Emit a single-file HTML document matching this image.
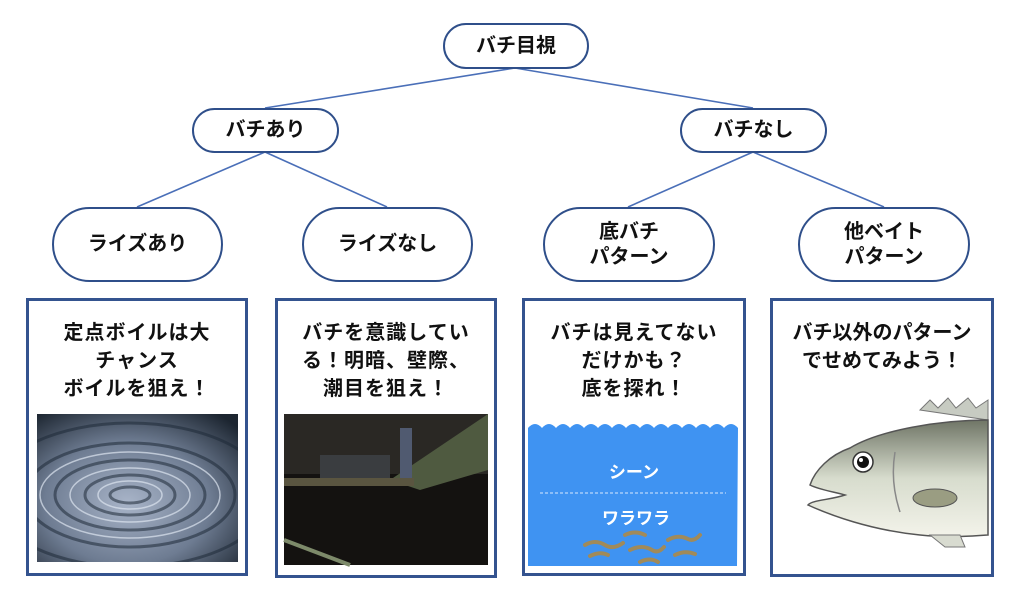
<!DOCTYPE html>
<html><head><meta charset="utf-8"><style>
body{margin:0;width:1024px;height:592px;background:#fff;position:relative;overflow:hidden;font-family:"Liberation Sans","Noto Sans CJK JP",sans-serif;}
.n{position:absolute;box-sizing:border-box;border:2.5px solid #2f4f8a;border-radius:999px;background:#fff;display:flex;align-items:center;justify-content:center;text-align:center;font-weight:bold;font-size:20px;line-height:25px;color:#111;}
.b{position:absolute;box-sizing:border-box;border:3px solid #34538f;background:#fff;}
.t{position:absolute;left:0;right:0;top:18px;text-align:center;font-weight:bold;font-size:20px;line-height:28px;color:#111;letter-spacing:1px;}
svg{position:absolute;left:0;top:0}
</style></head><body>
<svg width="1024" height="592">
<g stroke="#4a6fb8" stroke-width="1.6">
<line x1="515" y1="68" x2="265" y2="108"/><line x1="515" y1="68" x2="753" y2="108"/>
<line x1="265" y1="152" x2="137" y2="207"/><line x1="265" y1="152" x2="387" y2="207"/>
<line x1="753" y1="152" x2="628" y2="207"/><line x1="753" y1="152" x2="884" y2="207"/>
</g>
</svg>
<div class="n" style="left:443px;top:23px;width:146px;height:46px">バチ目視</div>
<div class="n" style="left:192px;top:108px;width:147px;height:45px">バチあり</div>
<div class="n" style="left:680px;top:108px;width:147px;height:45px">バチなし</div>
<div class="n" style="left:52px;top:207px;width:171px;height:75px">ライズあり</div>
<div class="n" style="left:302px;top:207px;width:171px;height:75px">ライズなし</div>
<div class="n" style="left:543px;top:207px;width:172px;height:75px">底バチ<br>パターン</div>
<div class="n" style="left:798px;top:207px;width:172px;height:75px">他ベイト<br>パターン</div>

<div class="b" style="left:26px;top:298px;width:222px;height:278px"><div class="t">定点ボイルは大<br>チャンス<br>ボイルを狙え！</div></div>
<div class="b" style="left:275px;top:298px;width:222px;height:280px"><div class="t">バチを意識してい<br>る！明暗、壁際、<br>潮目を狙え！</div></div>
<div class="b" style="left:522px;top:298px;width:224px;height:278px"><div class="t">バチは見えてない<br>だけかも？<br>底を探れ！</div></div>
<div class="b" style="left:770px;top:298px;width:224px;height:279px"><div class="t" style="letter-spacing:0">バチ以外のパターン<br>でせめてみよう！</div></div>

<svg width="1024" height="592">
<defs>
<radialGradient id="w" cx="0.45" cy="0.6" r="0.75"><stop offset="0" stop-color="#a8b4c8"/><stop offset="0.55" stop-color="#6e7c92"/><stop offset="1" stop-color="#1c2530"/></radialGradient>
<linearGradient id="f" x1="0" y1="0" x2="0" y2="1"><stop offset="0" stop-color="#6f7566"/><stop offset="0.5" stop-color="#d7dccd"/><stop offset="1" stop-color="#f3f3ea"/></linearGradient>
<clipPath id="c1"><rect x="37" y="414" width="201" height="148"/></clipPath>
</defs>
<rect x="37" y="414" width="201" height="148" fill="url(#w)"/>
<g fill="none" stroke="#1e2a38" stroke-width="3" opacity="0.55" clip-path="url(#c1)">
<ellipse cx="130" cy="495" rx="20" ry="8"/><ellipse cx="130" cy="495" rx="45" ry="20"/><ellipse cx="130" cy="495" rx="75" ry="35"/><ellipse cx="130" cy="495" rx="105" ry="52"/><ellipse cx="130" cy="495" rx="140" ry="72"/></g>
<g fill="none" stroke="#dde5f0" stroke-width="1.5" opacity="0.7" clip-path="url(#c1)">
<ellipse cx="130" cy="495" rx="32" ry="14"/><ellipse cx="130" cy="495" rx="60" ry="27"/><ellipse cx="130" cy="495" rx="90" ry="43"/></g>
<rect x="284" y="414" width="204" height="151" fill="#141210"/>
<rect x="284" y="414" width="204" height="60" fill="#2a2824"/>
<polygon points="390,480 488,414 488,470 420,490" fill="#4f5a40"/>
<rect x="320" y="455" width="70" height="28" fill="#3a3d40"/>
<rect x="400" y="428" width="12" height="50" fill="#505a70"/>
<rect x="284" y="478" width="130" height="8" fill="#5a5540"/>
<line x1="284" y1="540" x2="350" y2="565" stroke="#7d8a6a" stroke-width="4"/>
<path d="M528 428 q7 -8 14 0 q7 -8 14 0 q7 -8 14 0 q7 -8 14 0 q7 -8 14 0 q7 -8 14 0 q7 -8 14 0 q7 -8 14 0 q7 -8 14 0 q7 -8 14 0 q7 -8 14 0 q7 -8 14 0 q7 -8 14 0 q7 -8 14 0 q7 -8 14 0 L737 566 L528 566Z" fill="#3f93f2"/>
<line x1="540" y1="493" x2="726" y2="493" stroke="#d8e8ff" stroke-width="1" stroke-dasharray="3,2"/>
<text x="634" y="478" fill="#fff" font-size="17" font-weight="bold" text-anchor="middle" font-family="Liberation Sans, Noto Sans CJK JP, sans-serif">シーン</text>
<text x="636" y="524" fill="#fff" font-size="17" font-weight="bold" text-anchor="middle" font-family="Liberation Sans, Noto Sans CJK JP, sans-serif">ワラワラ</text>
<g stroke="#a08a5a" stroke-width="4" fill="none" stroke-linecap="round">
<path d="M585 545 q10 -6 20 0 q8 5 18 -2"/><path d="M590 556 q10 -5 18 -1"/><path d="M625 535 q10 -5 20 0"/><path d="M630 550 q12 -6 22 0 q6 4 12 -3"/><path d="M640 562 q10 -5 18 0"/><path d="M668 540 q10 -6 20 -1 q6 3 12 -4"/><path d="M675 555 q10 -5 20 -1"/>
</g>
<path d="M920 410 l10 -10 l8 8 l10 -10 l8 10 l12 -10 l8 10 l12 -8 l0 20Z" fill="#c7cbc2" stroke="#777" stroke-width="1"/>
<path d="M988 420 C940 420 880 430 850 448 C830 455 815 470 810 485 C820 490 835 492 845 495 C830 500 812 500 808 505 C830 515 870 530 920 535 C950 538 975 536 988 535Z" fill="url(#f)" stroke="#555" stroke-width="1.5"/>
<path d="M930 535 l15 12 l20 0 l-5 -12Z" fill="#d8dbd0" stroke="#777"/>
<ellipse cx="935" cy="498" rx="22" ry="9" fill="#9a9d82" stroke="#555"/>
<path d="M895 452 q-5 30 5 60" stroke="#888" fill="none" stroke-width="1.5"/>
<circle cx="863" cy="462" r="10" fill="#fff" stroke="#333" stroke-width="1.5"/><circle cx="863" cy="462" r="6" fill="#111"/><circle cx="861" cy="460" r="2" fill="#fff"/>
</svg>
</body></html>
